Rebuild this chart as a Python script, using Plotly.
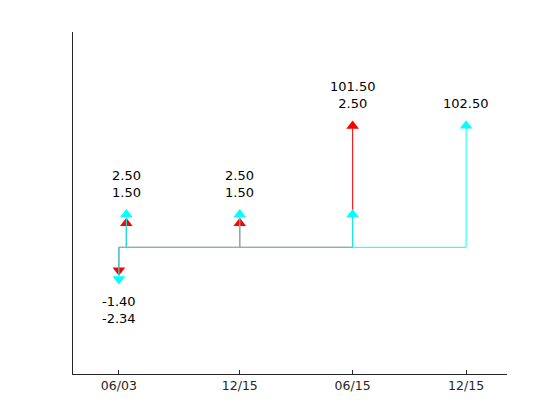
"""Cash flow diagram for two bonds, drawn with Plotly."""
import math

import plotly.graph_objects as go

# Cash flows of the first bond (red)
dates_a = ["2021-06-03", "2021-06-15", "2021-12-15", "2022-06-15"]
amounts_a = [-1.40, 1.50, 1.50, 101.50]

# Cash flows of the second bond (cyan)
dates_b = ["2021-06-03", "2021-06-15", "2021-12-15", "2022-06-15", "2022-12-15"]
amounts_b = [-2.34, 2.50, 2.50, 2.50, 102.50]

tick_dates = ["2021-06-03", "2021-12-15", "2022-06-15", "2022-12-15"]
tick_labels = ["06/03", "12/15", "06/15", "12/15"]

x_range = ["2021-03-21", "2023-02-19"]

RED = "#ff0000"
CYAN = "#00ffff"
FONT = "DejaVu Sans"


def arrow_height(v):
    # arrows are drawn on a compressed (log) scale
    return math.copysign(math.log10(1 + abs(v)), v)


def add_flows(fig, dates, amounts, colour):
    heights = [arrow_height(a) for a in amounts]
    # baseline
    fig.add_trace(go.Scatter(
        x=[dates[0], dates[-1]], y=[0, 0], mode="lines",
        line={"color": colour, "width": 1}, hoverinfo="skip", showlegend=False,
    ))
    # stems
    xs, ys = [], []
    for d, h in zip(dates, heights):
        xs += [d, d, None]
        ys += [0, h, None]
    fig.add_trace(go.Scatter(
        x=xs, y=ys, mode="lines",
        line={"color": colour, "width": 1}, hoverinfo="skip", showlegend=False,
    ))
    # arrow heads
    fig.add_trace(go.Scatter(
        x=dates, y=heights, mode="markers",
        marker={
            "symbol": ["triangle-up" if a > 0 else "triangle-down" for a in amounts],
            "size": 11, "color": colour, "line": {"width": 0},
        },
        hoverinfo="skip", showlegend=False,
    ))


fig = go.Figure()
add_flows(fig, dates_a, amounts_a, RED)
add_flows(fig, dates_b, amounts_b, CYAN)

# Amount labels, grouped per date
by_date = {}
for d, a in list(zip(dates_a, amounts_a)) + list(zip(dates_b, amounts_b)):
    by_date.setdefault(d, []).append(a)

for d, vals in by_date.items():
    pos = sorted([v for v in vals if v > 0], reverse=True)
    neg = sorted([v for v in vals if v < 0], reverse=True)
    if pos:
        fig.add_annotation(
            x=d, y=arrow_height(max(pos)), text="<br>".join(f"{v:.2f}" for v in pos),
            showarrow=False, yanchor="bottom", yshift=13,
            font={"family": FONT, "size": 13, "color": "black"},
        )
    if neg:
        fig.add_annotation(
            x=d, y=arrow_height(min(neg)), text="<br>".join(f"{v:.2f}" for v in neg),
            showarrow=False, yanchor="top", yshift=-13,
            font={"family": FONT, "size": 13, "color": "black"},
        )

fig.update_layout(
    width=560,
    height=420,
    margin={"l": 73, "r": 53, "t": 32, "b": 46},
    plot_bgcolor="white",
    paper_bgcolor="white",
    font={"family": FONT, "size": 13, "color": "#262626"},
)

fig.update_xaxes(
    type="date",
    range=x_range,
    tickvals=tick_dates,
    ticktext=tick_labels,
    ticks="inside",
    ticklen=4,
    tickcolor="#262626",
    showline=True,
    linecolor="#262626",
    linewidth=1,
    showgrid=False,
    zeroline=False,
    tickfont={"family": FONT, "size": 12.5, "color": "#262626"},
)

fig.update_yaxes(
    range=[-2.1, 3.57],
    showline=True,
    linecolor="#262626",
    linewidth=1,
    showgrid=False,
    zeroline=False,
    showticklabels=False,
    ticks="",
)

# drop the default page margin so the figure sits at the window corner
fig.write_html(
    "out.html",
    config={"displayModeBar": False},
    post_script="document.body.style.margin = '0';",
)
